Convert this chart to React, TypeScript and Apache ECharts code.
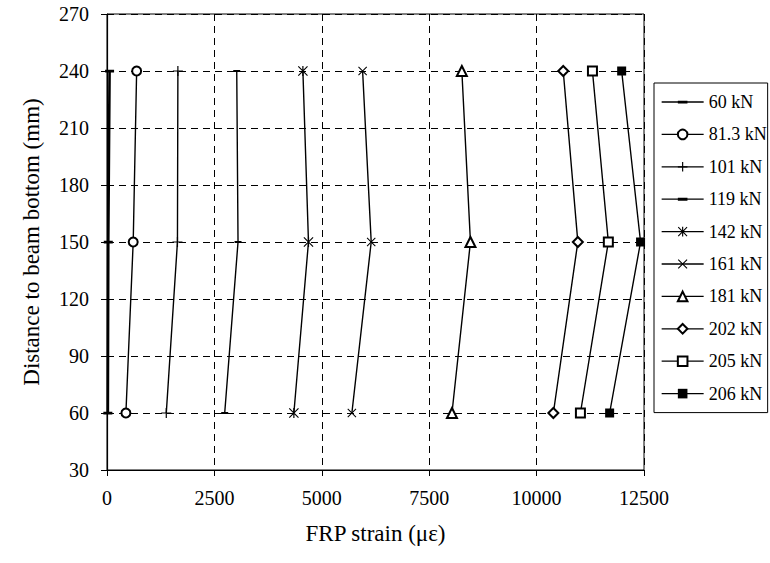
import React, { useEffect, useRef } from "react";
import * as echarts from "echarts";

const heights = [60, 150, 240];
const loadNames = ["60 kN", "81.3 kN", "101 kN", "119 kN", "142 kN", "161 kN", "181 kN", "202 kN", "205 kN", "206 kN"];
// FRP strain (µε) at heights 60, 150, 240 mm
const strain60 = [20, 30, 60];
const strain81 = [440, 610, 690];
const strain101 = [1380, 1640, 1650];
const strain119 = [2740, 3050, 3020];
const strain142 = [4350, 4690, 4560];
const strain161 = [5700, 6150, 5950];
const strain181 = [8030, 8460, 8260];
const strain202 = [10390, 10960, 10620];
const strain205 = [11020, 11670, 11300];
const strain206 = [11700, 12420, 11980];
const xTicks = [0, 2500, 5000, 7500, 10000, 12500];
const yTicks = [30, 60, 90, 120, 150, 180, 210, 240, 270];

const FONT = "Liberation Serif";

// tiny corner specks keep the bounding box square so the dash is not stretched
const corners = " M0,0 L0.05,0 L0,0.05 Z M10,10 L9.95,10 L10,9.95 Z";
const dashSym = "path://M0,3.6 H10 V6.6 H0 Z" + corners;
const plusSym = "path://M4.4,0 H5.6 V10 H4.4 Z M0,4.4 H10 V5.6 H0 Z";
const crossSym = "path://M0,0.8 L0.8,0 L10,9.2 L9.2,10 Z M9.2,0 L10,0.8 L0.8,10 L0,9.2 Z";
const starSym = "path://M0,0.8 L0.8,0 L10,9.2 L9.2,10 Z M9.2,0 L10,0.8 L0.8,10 L0,9.2 Z M4.4,0 H5.6 V10 H4.4 Z";

const allStrains = [strain60, strain81, strain101, strain119, strain142, strain161, strain181, strain202, strain205, strain206];
const symbols: any[] = [dashSym, "emptyCircle", plusSym, dashSym, starSym, crossSym, "emptyTriangle", "emptyDiamond", "emptyRect", "rect"];
const symbolSizes: any[] = [9, 9, 10, 7, 10, 9, 10, 10, 9, 9];

export default function App() {
  const ref = useRef<HTMLDivElement>(null);
  useEffect(() => {
    if (!ref.current) return;
    const chart = echarts.init(ref.current, null, { renderer: "svg" });
    const series = loadNames.map((name, i) => {
      const isEmpty = typeof symbols[i] === "string" && symbols[i].startsWith("empty");
      return {
        name,
        type: "line",
        data: heights.map((h, k) => [allStrains[i][k], h]),
        symbol: symbols[i],
        symbolSize: symbolSizes[i],
        symbolKeepAspect: true,
        showAllSymbol: true,
        lineStyle: { color: "#000", width: i === 0 ? 2.6 : 1.4 },
        itemStyle: isEmpty
          ? { color: "#000", borderColor: "#000", borderWidth: 1.3 }
          : { color: "#000", borderWidth: 0 },
        emphasis: { disabled: true },
        z: 3,
      };
    });
    chart.setOption({
      animation: false,
      backgroundColor: "#fff",
      textStyle: { fontFamily: FONT, color: "#000" },
      grid: { left: 107, right: 126, top: 14, bottom: 93, show: true, borderColor: "#000", borderWidth: 1 },
      legend: {
        orient: "vertical",
        left: 654,
        top: 83,
        padding: [10, 1, 10, 7],
        itemWidth: 42,
        itemHeight: 12,
        itemGap: 14.4,
        borderColor: "#000",
        borderWidth: 1,
        backgroundColor: "#fff",
        lineStyle: { width: 1.3 },
        textStyle: { fontFamily: FONT, fontSize: 18, color: "#000" },
        data: loadNames,
      },
      xAxis: {
        type: "value",
        min: xTicks[0],
        max: xTicks[xTicks.length - 1],
        interval: xTicks[1] - xTicks[0],
        name: "FRP strain (\u03bc\u03b5)",
        nameLocation: "middle",
        nameGap: 52,
        nameTextStyle: { fontFamily: FONT, fontSize: 23, color: "#000" },
        axisLine: { lineStyle: { color: "#000", width: 1.2 } },
        axisTick: { show: true, inside: false, length: 6, lineStyle: { color: "#000" } },
        axisLabel: { fontFamily: FONT, fontSize: 20, color: "#000", margin: 18, formatter: (v: number) => String(v) },
        splitLine: { show: true, lineStyle: { color: "#000", type: [7, 5], width: 1 } },
      },
      yAxis: {
        type: "value",
        min: yTicks[0],
        max: yTicks[yTicks.length - 1],
        interval: yTicks[1] - yTicks[0],
        name: "Distance to beam bottom (mm)",
        nameLocation: "middle",
        nameGap: 64,
        nameTextStyle: { fontFamily: FONT, fontSize: 23, color: "#000" },
        axisLine: { lineStyle: { color: "#000", width: 1.2 } },
        axisTick: { show: true, inside: false, length: 6, lineStyle: { color: "#000" } },
        axisLabel: { fontFamily: FONT, fontSize: 20, color: "#000", margin: 18, formatter: (v: number) => String(v) },
        splitLine: { show: true, lineStyle: { color: "#000", type: [7, 5], width: 1 } },
      },
      series,
    });
    return () => chart.dispose();
  }, []);
  return <div ref={ref} style={{ width: 770, height: 563, position: "absolute", left: 0, top: 0 }} />;
}
